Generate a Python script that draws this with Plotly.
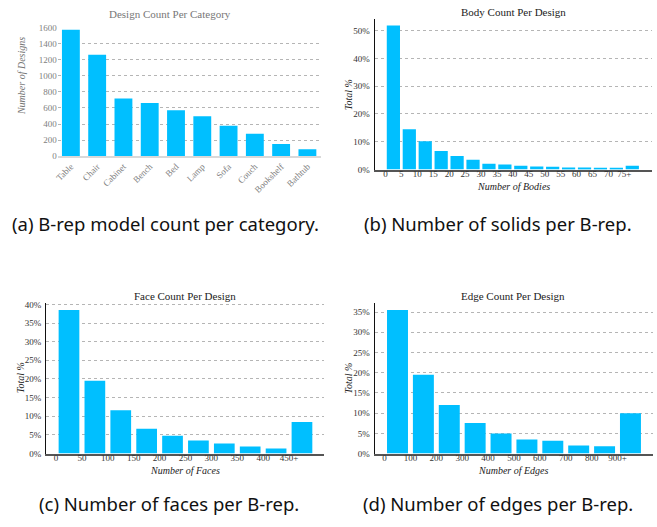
import plotly.graph_objects as go

W, H = 657, 527

# ---- data -------------------------------------------------------------
categories = ["Table", "Chair", "Cabinet", "Bench", "Bed", "Lamp", "Sofa",
              "Couch", "Bookshelf", "Bathtub"]
design_counts = [1575, 1264, 718, 661, 571, 498, 379, 278, 151, 86]

body_edges = [0, 5, 10, 15, 20, 25, 30, 35, 40, 45, 50, 55, 60, 65, 70, 75]
body_labels = ["0", "5", "10", "15", "20", "25", "30", "35", "40", "45",
               "50", "55", "60", "65", "70", "75+"]
body_pct = [51.9, 14.5, 10.2, 6.7, 4.9, 3.5, 2.1, 1.8, 1.4, 1.05, 1.0,
            0.7, 0.7, 0.35, 0.3, 1.4]

face_edges = [0, 50, 100, 150, 200, 250, 300, 350, 400, 450]
face_labels = ["0", "50", "100", "150", "200", "250", "300", "350", "400", "450+"]
face_pct = [38.5, 19.55, 11.65, 6.66, 4.8, 3.5, 2.7, 1.9, 1.4, 8.5]

edge_edges = [0, 100, 200, 300, 400, 500, 600, 700, 800, 900]
edge_labels = ["0", "100", "200", "300", "400", "500", "600", "700", "800", "900+"]
edge_pct = [35.5, 19.5, 12.0, 7.6, 5.0, 3.5, 3.2, 2.0, 1.8, 10.0]

# ---- styling ----------------------------------------------------------
BAR = "#00BFFF"
SERIF = "Liberation Serif"
SANS = "Noto Sans"
GRAY_TXT = "#808080"
DARK_TXT = "#333333"


def px_x(p):
    return p / W


def px_y(p):
    return 1 - p / H


fig = go.Figure()

# (a) categorical bar chart
fig.add_trace(go.Bar(x=categories, y=design_counts, marker_color=BAR,
                     marker_line_width=0, xaxis="x", yaxis="y"))


def hist_trace(edges, vals, step, frac, ax, ay):
    centers = [e + step / 2 for e in edges]
    return go.Bar(x=centers, y=vals, width=step * frac, marker_color=BAR,
                  marker_line_width=0, xaxis=ax, yaxis=ay)


fig.add_trace(hist_trace(body_edges, body_pct, 5, 0.83, "x2", "y2"))
fig.add_trace(hist_trace(face_edges, face_pct, 50, 0.80, "x3", "y3"))
fig.add_trace(hist_trace(edge_edges, edge_pct, 100, 0.81, "x4", "y4"))

grid = dict(showgrid=True, gridcolor="#b5b5b5", griddash="dot", gridwidth=1,
            zeroline=False)
tickfont_gray = dict(family=SERIF, size=9, color=GRAY_TXT)
tickfont_dark = dict(family=SERIF, size=9, color=DARK_TXT)

hist_x = dict(tickfont=tickfont_dark, showline=True, linecolor="#555555",
              linewidth=2, showgrid=False, ticks="", ticklabelstandoff=-5)
hist_y = dict(tickfont=tickfont_dark, showline=True, linecolor="#111111",
              linewidth=1, ticks="", ticklabelstandoff=2, **grid)

layout = dict(
    width=W, height=H, margin=dict(l=0, r=0, t=0, b=0),
    paper_bgcolor="white", plot_bgcolor="white", showlegend=False,
    bargap=0.32,
    # (a)
    xaxis=dict(domain=[px_x(55), px_x(319)], anchor="y", tickangle=-45,
               tickfont=tickfont_gray, showline=True, linecolor="#d9d9d9",
               linewidth=1.5, showgrid=False, ticks="", ticklabelstandoff=0),
    yaxis=dict(domain=[px_y(154), px_y(23.3)], anchor="x", range=[0, 1600],
               tickvals=list(range(0, 1601, 200)), tickfont=tickfont_gray,
               showline=False, ticks="", ticklabelstandoff=0, **grid),
    # (b)
    xaxis2=dict(domain=[px_x(373.3), px_x(651.7)], anchor="y2",
                range=[-3.4, 83.6], tickvals=body_edges, ticktext=body_labels,
                **hist_x),
    yaxis2=dict(domain=[px_y(167.7), px_y(14)], anchor="x2", range=[0, 54.3],
                tickvals=[0, 10, 20, 30, 40, 50],
                ticktext=["0%", "10%", "20%", "30%", "40%", "50%"], **hist_y),
    # (c)
    xaxis3=dict(domain=[px_x(43.3), px_x(322.7)], anchor="y3",
                range=[-19.2, 518], tickvals=face_edges, ticktext=face_labels,
                **hist_x),
    yaxis3=dict(domain=[px_y(457.3), px_y(304)], anchor="x3", range=[0, 40.3],
                tickvals=list(range(0, 41, 5)),
                ticktext=[f"{v}%" for v in range(0, 41, 5)], **hist_y),
    # (d)
    xaxis4=dict(domain=[px_x(373.3), px_x(652.7)], anchor="y4",
                range=[-38.5, 1036], tickvals=edge_edges, ticktext=edge_labels,
                **hist_x),
    yaxis4=dict(domain=[px_y(457.3), px_y(304)], anchor="x4", range=[0, 37.2],
                tickvals=list(range(0, 36, 5)),
                ticktext=[f"{v}%" for v in range(0, 36, 5)], **hist_y),
)
fig.update_layout(**layout)


def note(text, x, y, size, color, family=SERIF, angle=0, italic=False):
    fig.add_annotation(text=f"<i>{text}</i>" if italic else text,
                       x=px_x(x), y=px_y(y), xref="paper", yref="paper",
                       showarrow=False, xanchor="center", yanchor="middle",
                       textangle=angle,
                       font=dict(family=family, size=size, color=color))


# chart titles
note("Design Count Per Category", 168, 9, 11, "#777777")
note("Body Count Per Design", 512.5, 7.5, 11, "#222222")
note("Face Count Per Design", 183, 297, 11, "#222222")
note("Edge Count Per Design", 512.5, 297, 11, "#222222")

# axis titles
note("Number of Designs", 18.5, 72, 10, "#777777", angle=-90, italic=True)
note("Total %", 346.5, 91, 10, "#222222", angle=-90, italic=True)
note("Total %", 17.5, 380, 10, "#222222", angle=-90, italic=True)
note("Total %", 347.5, 380, 10, "#222222", angle=-90, italic=True)
note("Number of Bodies", 512.5, 185.5, 10, "#222222", italic=True)
note("Number of Faces", 182.5, 475, 10, "#222222", italic=True)
note("Number of Edges", 512.5, 475, 10, "#222222", italic=True)

# sub-figure captions
note("(a) B-rep model count per category.", 163, 223, 18.5, "#111111", family=SANS)
note("(b) Number of solids per B-rep.", 497, 223, 18.5, "#111111", family=SANS)
note("(c) Number of faces per B-rep.", 167, 508, 18.5, "#111111", family=SANS)
note("(d) Number of edges per B-rep.", 497, 508, 18.5, "#111111", family=SANS)

fig.write_html("out.html")
